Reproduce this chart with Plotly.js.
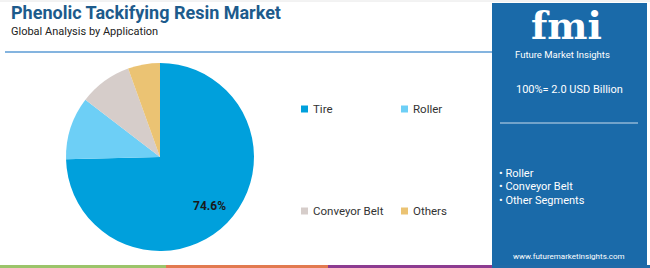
<!DOCTYPE html>
<html>
<head>
<meta charset="utf-8">
<script src="https://cdn.plot.ly/plotly-3.0.1.min.js"></script>
<style>html,body{margin:0;padding:0;background:#fff;}#chart{width:650px;height:268px;}</style>
</head>
<body>
<div id="chart"></div>
<script>
var categories = ["Tire", "Roller", "Conveyor Belt", "Others"];
var shares = [74.6, 10.8, 9.1, 5.5];
var colors = ["#00a0dc", "#6dcff6", "#d6cdca", "#ebc373"];
var panelSegments = ["Roller", "Conveyor Belt", "Other Segments"];
var marketSize = "100%= 2.0 USD Billion";

var W = 650, H = 268;
function px(x){return x / W;}
function py(y){return 1 - y / H;}

var pieCx = 160, pieCy = 157, pieR = 94;

var trace = {
  type: 'pie',
  labels: categories,
  values: shares,
  marker: {colors: colors, line: {width: 0}},
  sort: false,
  direction: 'clockwise',
  rotation: 0,
  textinfo: 'none',
  hoverinfo: 'none',
  showlegend: false,
  domain: {x: [px(pieCx - pieR), px(pieCx + pieR)], y: [py(pieCy + pieR), py(pieCy - pieR)]}
};

var shapes = [];
var annotations = [];

// label of the largest slice, placed at its mid-angle
var total = shares.reduce(function(a, b){ return a + b; }, 0);
var midAng = (shares[0] / total) * Math.PI; // clockwise from 12 o'clock
var lr = pieR * 0.74;
annotations.push({xref: 'paper', yref: 'paper', x: px(pieCx + lr * Math.sin(midAng)), y: py(pieCy - lr * Math.cos(midAng)), xanchor: 'center', yanchor: 'middle', showarrow: false, text: '<b>' + (shares[0] / total * 100).toFixed(1) + '%</b>', font: {family: 'Roboto, Arial, sans-serif', size: 12, color: '#1a1a1a'}});

// header underline
shapes.push({type: 'line', xref: 'paper', yref: 'paper', x0: px(5), x1: px(492), y0: py(52), y1: py(52), line: {color: '#5b9bd5', width: 1.5}});
// top thin border
shapes.push({type: 'line', xref: 'paper', yref: 'paper', x0: 0, x1: 1, y0: py(1), y1: py(1), line: {color: '#e6e6e6', width: 1}});

// bottom colour strip
var strip = [[0, 166, '#9bc46a'], [166, 328, '#e27a50'], [328, 492, '#8c3b90'], [492, 650, '#1f6aa8']];
strip.forEach(function(s){
  shapes.push({type: 'rect', xref: 'paper', yref: 'paper', x0: px(s[0]), x1: px(s[1]), y0: 0, y1: py(265), line: {width: 0}, fillcolor: s[2]});
});

// right panel
shapes.push({type: 'rect', xref: 'paper', yref: 'paper', x0: px(492), x1: px(647), y0: py(265), y1: py(3), line: {width: 0}, fillcolor: '#1a6aa9', layer: 'below'});
shapes.push({type: 'line', xref: 'paper', yref: 'paper', x0: px(500), x1: px(638), y0: py(123), y1: py(123), line: {color: '#c9dcec', width: 1}});

// legend
var legPos = [[301, 109], [401, 109], [301, 211], [401, 211]];
categories.forEach(function(c, i){
  var p = legPos[i];
  shapes.push({type: 'rect', xref: 'paper', yref: 'paper', x0: px(p[0]), x1: px(p[0] + 7), y0: py(p[1] + 3.5), y1: py(p[1] - 3.5), line: {width: 0}, fillcolor: colors[i]});
  annotations.push({xref: 'paper', yref: 'paper', x: px(p[0] + 10), y: py(p[1]), xanchor: 'left', yanchor: 'middle', showarrow: false, text: c, font: {family: 'Roboto, Arial, sans-serif', size: 11.5, color: '#333333'}});
});

// titles
annotations.push({xref: 'paper', yref: 'paper', x: px(9), y: py(13), xanchor: 'left', yanchor: 'middle', showarrow: false, text: '<b>Phenolic Tackifying Resin Market</b>', font: {family: 'Roboto, Arial, sans-serif', size: 18, color: '#1d5b8c'}});
annotations.push({xref: 'paper', yref: 'paper', x: px(9), y: py(31), xanchor: 'left', yanchor: 'middle', showarrow: false, text: 'Global Analysis by Application', font: {family: 'Roboto, Arial, sans-serif', size: 11, color: '#222222'}});

// panel texts
annotations.push({xref: 'paper', yref: 'paper', x: px(566), y: py(26), xanchor: 'center', yanchor: 'middle', showarrow: false, text: '<b>fmi</b>', font: {family: 'DejaVu Serif, serif', size: 38, color: '#ffffff'}});
annotations.push({xref: 'paper', yref: 'paper', x: px(562), y: py(55), xanchor: 'center', yanchor: 'middle', showarrow: false, text: 'Future Market Insights', font: {family: 'Roboto, Arial, sans-serif', size: 9.5, color: '#ffffff'}});
annotations.push({xref: 'paper', yref: 'paper', x: px(569), y: py(90), xanchor: 'center', yanchor: 'middle', showarrow: false, text: marketSize, font: {family: 'Roboto, Arial, sans-serif', size: 11, color: '#ffffff'}});
panelSegments.forEach(function(s, i){
  annotations.push({xref: 'paper', yref: 'paper', x: px(497), y: py(173 + i * 13.7), xanchor: 'left', yanchor: 'middle', showarrow: false, text: '\u2022 ' + s, font: {family: 'Roboto, Arial, sans-serif', size: 11, color: '#ffffff'}});
});
annotations.push({xref: 'paper', yref: 'paper', x: px(569), y: py(256), xanchor: 'center', yanchor: 'middle', showarrow: false, text: 'www.futuremarketinsights.com', font: {family: 'Roboto, Arial, sans-serif', size: 8, color: '#ffffff'}});

var layout = {
  width: W, height: H,
  margin: {l: 0, r: 0, t: 0, b: 0},
  paper_bgcolor: '#ffffff',
  plot_bgcolor: '#ffffff',
  showlegend: false,
  shapes: shapes,
  annotations: annotations
};

Plotly.newPlot('chart', [trace], layout, {displayModeBar: false, staticPlot: true});
</script>
</body>
</html>
